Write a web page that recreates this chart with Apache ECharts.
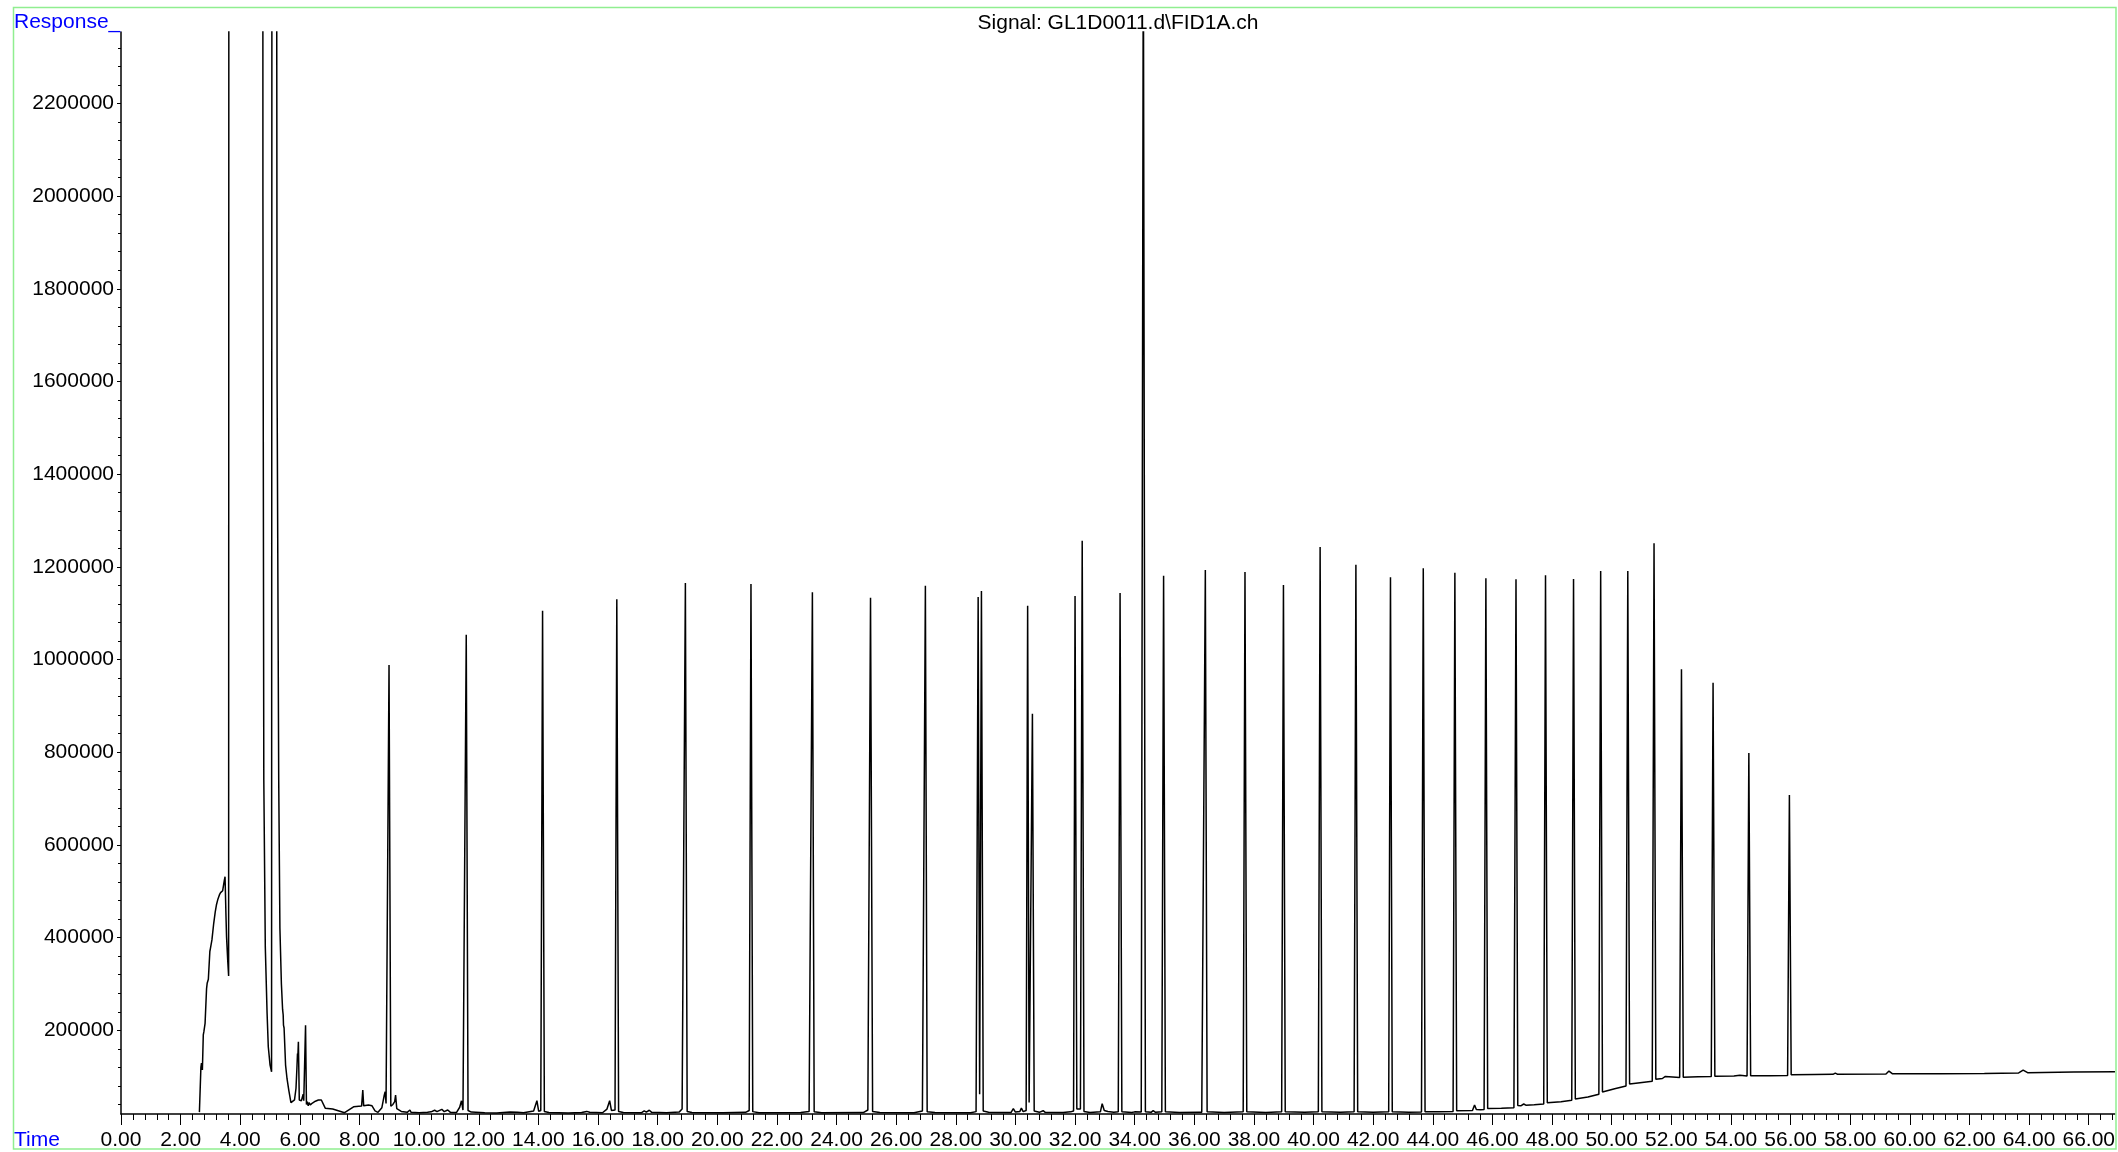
<!DOCTYPE html>
<html>
<head>
<meta charset="utf-8">
<title>Signal: GL1D0011.d\FID1A.ch</title>
<script src="https://cdn.jsdelivr.net/npm/echarts@6/dist/echarts.min.js"></script>
<style>
  html, body { margin: 0; padding: 0; background: #ffffff; }
  #chart { width: 2118px; height: 1152px; }
</style>
</head>
<body>
<div id="chart"></div>
<script>
// FID1A detector trace, [retention time (min), response]

// solvent front and light components
const solventRegion = [
  [2.63, 23400], [2.68, 120000], [2.70, 129000], [2.73, 114300], [2.76, 190000], [2.78, 197000],
  [2.82, 215000], [2.87, 290000], [2.89, 301400], [2.93, 310000], [2.98, 370000], [3.00, 377000],
  [3.05, 395000], [3.11, 430900], [3.16, 455000], [3.20, 470300], [3.25, 483000], [3.30, 492000],
  [3.34, 497000], [3.38, 499000], [3.41, 501200], [3.44, 505000], [3.47, 525000], [3.49, 531400],
  [3.52, 450000], [3.54, 402000], [3.58, 350000], [3.61, 317100],
  [3.64, 9800000], [4.20, 31000000], [4.74, 8000000],
  [4.76, 2000000], [4.79, 740000], [4.84, 380000], [4.90, 236700], [4.94, 164500], [5.00, 125000],
  [5.05, 110600], [5.08, 6500000], [5.15, 8200000], [5.20, 4000000], [5.235, 1600000],
  [5.29, 740000], [5.33, 420000], [5.38, 300000], [5.42, 245000], [5.44, 233000], [5.45, 211000],
  [5.47, 205000], [5.52, 125000], [5.57, 95000], [5.63, 70000], [5.70, 44000], [5.76, 43000],
  [5.82, 50000], [5.87, 75000], [5.90, 118000], [5.92, 150000], [5.93, 140000], [5.95, 175400],
  [5.98, 49500], [6.05, 48000], [6.11, 62000], [6.13, 48000], [6.17, 48000], [6.19, 211000],
  [6.22, 40000], [6.25, 46000], [6.28, 37000], [6.31, 44000], [6.35, 39000], [6.42, 43000],
  [6.52, 47000], [6.62, 49500], [6.72, 49500], [6.78, 46000], [6.85, 32000], [7.10, 30000],
  [7.50, 22200], [7.80, 35000], [8.07, 36500], [8.11, 71000], [8.14, 37000], [8.20, 40000],
  [8.30, 39000], [8.42, 37000], [8.52, 26000], [8.62, 23000], [8.75, 33000], [8.83, 60000],
  [8.86, 67500], [8.89, 42000], [8.93, 45000], [8.99, 988100], [9.05, 36000], [9.12, 40000],
  [9.18, 46000], [9.21, 60000], [9.25, 31000], [9.40, 25000], [9.60, 23000], [9.69, 28000],
  [9.73, 23000]
];

// n-alkane series, 10 to 43 min
const midRegion = [
  [10.00, 22000], [10.28, 23000], [10.33, 27000], [10.40, 24000], [10.52, 27500], [10.60, 24500],
  [10.76, 29500], [10.84, 24500], [10.96, 28000], [11.05, 23000], [11.25, 22500], [11.36, 34000],
  [11.42, 48000], [11.47, 28000], [11.53, 30000], [11.58, 1053500], [11.64, 27000], [11.75, 23500],
  [12.20, 22000], [12.60, 21500], [13.05, 23500], [13.30, 23000], [13.50, 22000], [13.84, 26000],
  [13.95, 48000], [14.01, 25000], [14.08, 27000], [14.14, 1105300], [14.20, 25000], [14.35, 22500],
  [15.00, 21500], [15.45, 22500], [15.62, 25000], [15.72, 23000], [16.15, 22000], [16.30, 30000],
  [16.39, 48000], [16.45, 27000], [16.57, 28000], [16.63, 1129900], [16.69, 25000], [16.85, 22500],
  [17.45, 22000], [17.55, 26000], [17.62, 23500], [17.72, 27500], [17.80, 23000], [18.30, 22000],
  [18.72, 23500], [18.82, 30000], [18.87, 28000], [18.93, 1165000], [18.99, 25000], [19.15, 22500],
  [20.20, 22000], [20.95, 23000], [21.07, 27000], [21.13, 1162900], [21.19, 24500], [21.40, 22000],
  [22.80, 22500], [23.08, 25000], [23.13, 28000], [23.19, 1145000], [23.25, 24000], [23.50, 22000],
  [24.90, 22500], [25.05, 28000], [25.14, 1133300], [25.21, 25000], [25.45, 22500], [26.60, 22000],
  [26.88, 26000], [26.98, 1159200], [27.04, 24000], [27.30, 22500], [28.50, 22000], [28.68, 24500],
  [28.75, 1134800], [28.80, 62000], [28.86, 1147800], [28.92, 26000], [29.10, 23000], [29.85, 22500],
  [29.93, 31000], [30.00, 23500], [30.15, 25000], [30.20, 32000], [30.26, 24500], [30.36, 27000],
  [30.41, 1116100], [30.46, 44000], [30.51, 45000], [30.57, 883100], [30.63, 26000], [30.80, 23000],
  [30.93, 26500], [31.00, 23000], [31.60, 22500], [31.85, 24000], [31.95, 26000], [32.00, 1137000],
  [32.06, 30000], [32.12, 31000], [32.18, 30000], [32.24, 1256300], [32.30, 25000], [32.50, 22500],
  [32.85, 24000], [32.91, 41600], [32.98, 27000], [33.10, 25000], [33.30, 23000], [33.45, 24000],
  [33.51, 1143500], [33.57, 24000], [33.90, 22500], [34.00, 24000], [34.05, 22500], [34.22, 23500],
  [34.29, 2600000], [34.36, 24000], [34.55, 23000], [34.62, 26500], [34.70, 23000], [34.91, 24000],
  [34.97, 1180800], [35.03, 24000], [35.50, 22500], [36.15, 23000], [36.20, 25000], [36.25, 23000],
  [36.31, 24000], [36.37, 1193100], [36.43, 24000], [37.00, 22500], [37.64, 24000], [37.70, 1188800],
  [37.76, 24000], [38.40, 22500], [38.93, 24000], [38.99, 1160700], [39.05, 24000], [39.70, 23000],
  [40.16, 24000], [40.22, 1242700], [40.28, 24500], [40.90, 23000], [41.36, 24000], [41.42, 1204500],
  [41.48, 24000], [42.00, 23000], [42.52, 24000], [42.58, 1177300], [42.64, 24000], [43.20, 23000]
];

// heavy end with rising column bleed
const lateRegion = [
  [43.62, 23500], [43.68, 1196800], [43.74, 24500], [44.20, 24500], [44.68, 25000], [44.74, 1187300],
  [44.80, 26500], [45.33, 27000], [45.40, 39000], [45.46, 29000], [45.60, 28500], [45.72, 29000],
  [45.78, 1175200], [45.84, 31500], [46.30, 32000], [46.72, 33000], [46.79, 1173000], [46.85, 37500],
  [46.90, 39000], [46.95, 37000], [47.05, 41000], [47.12, 38500], [47.40, 39500], [47.72, 41000],
  [47.78, 1181700], [47.84, 43500], [48.30, 46000], [48.66, 49000], [48.72, 1173700], [48.78, 52000],
  [49.20, 56000], [49.57, 62000], [49.63, 1190900], [49.69, 67000], [50.10, 74000], [50.48, 80000],
  [50.54, 1190900], [50.60, 84000], [50.95, 87000], [51.36, 90000], [51.42, 1250700], [51.48, 94500],
  [51.70, 96000], [51.80, 100500], [51.86, 96500], [52.28, 98000], [52.34, 978900], [52.40, 98500],
  [52.90, 99800], [53.34, 100500], [53.40, 950000], [53.46, 101000], [54.10, 101200], [54.30, 103000],
  [54.36, 101500], [54.54, 101500], [54.60, 798300], [54.66, 102000], [55.30, 102000], [55.90, 102500],
  [55.96, 707700], [56.02, 104000], [56.80, 104500], [57.42, 105000], [57.50, 107700], [57.58, 105000],
  [59.20, 105500], [59.30, 112000], [59.42, 106000], [61.00, 106000], [62.50, 107000], [63.65, 108000],
  [63.80, 114000], [63.95, 108500], [65.50, 109800], [66.88, 110700]
];

// axis tick labels
const timeLabels = [0, 2, 4, 6, 8, 10, 12, 14, 16, 18, 20, 22, 24, 26, 28, 30, 32, 34,
  36, 38, 40, 42, 44, 46, 48, 50, 52, 54, 56, 58, 60, 62, 64, 66];
const responseLabels = [200000, 400000, 600000, 800000, 1000000, 1200000,
  1400000, 1600000, 1800000, 2000000, 2200000];

const TIME_MIN = 0, TIME_MAX = 66.88;
const RESP_MIN = 19400, RESP_MAX = 2354000;
const FONT = '"Liberation Sans", Arial, Helvetica, sans-serif';

// minor tick positions: five per labelled interval on each axis
const timeMinor = [];
for (let k = 1; k * 0.4 <= TIME_MAX + 1e-9; k++) {
  if (k % 5 !== 0) timeMinor.push(Math.round(k * 40) / 100);
}
const respMinor = [];
for (let v = 40000; v < RESP_MAX; v += 40000) {
  if (v % 200000 !== 0) respMinor.push(v);
}

const trace = solventRegion.concat(midRegion, lateRegion);

const chart = echarts.init(document.getElementById('chart'), null, { renderer: 'canvas' });

const tickStyle = { color: '#000000', width: 1 };

chart.setOption({
  animation: false,
  backgroundColor: '#ffffff',
  textStyle: { fontFamily: FONT },
  grid: { left: 121, right: 2, top: 32, bottom: 38, containLabel: false },
  xAxis: [
    {
      type: 'value', position: 'bottom', min: TIME_MIN, max: TIME_MAX,
      axisLine: { show: true, onZero: false, lineStyle: { color: '#000000', width: 1.5 } },
      axisTick: { show: true, customValues: timeLabels, length: 11, lineStyle: tickStyle },
      axisLabel: {
        show: true, customValues: timeLabels, margin: 16, fontSize: 21, color: '#000000',
        fontFamily: FONT, formatter: v => Number(v).toFixed(2)
      },
      splitLine: { show: false }
    },
    {
      type: 'value', position: 'bottom', min: TIME_MIN, max: TIME_MAX,
      axisLine: { show: false, onZero: false },
      axisTick: { show: true, customValues: timeMinor, length: 6, lineStyle: tickStyle },
      axisLabel: { show: false },
      splitLine: { show: false }
    }
  ],
  yAxis: [
    {
      type: 'value', position: 'left', min: RESP_MIN, max: RESP_MAX,
      axisLine: { show: true, onZero: false, lineStyle: { color: '#000000', width: 1.5 } },
      axisTick: { show: true, customValues: responseLabels, length: 4, lineStyle: tickStyle },
      axisLabel: {
        show: true, customValues: responseLabels, margin: 7, fontSize: 21, color: '#000000',
        fontFamily: FONT, formatter: v => String(v)
      },
      splitLine: { show: false }
    },
    {
      type: 'value', position: 'left', min: RESP_MIN, max: RESP_MAX,
      axisLine: { show: false, onZero: false },
      axisTick: { show: true, customValues: respMinor, length: 3, lineStyle: tickStyle },
      axisLabel: { show: false },
      splitLine: { show: false }
    }
  ],
  series: [{
    name: 'FID1A',
    type: 'line',
    xAxisIndex: 0,
    yAxisIndex: 0,
    data: trace,
    showSymbol: false,
    symbol: 'none',
    clip: true,
    sampling: null,
    lineStyle: { color: '#000000', width: 1.5 },
    emphasis: { disabled: true }
  }],
  graphic: [
    {
      type: 'rect', silent: true, z: 10,
      shape: { x: 13.5, y: 7.5, width: 2102.5, height: 1141.5 },
      style: { fill: 'none', stroke: '#90ee90', lineWidth: 1.5 }
    },
    {
      type: 'text', silent: true, z: 11, left: 14, top: 12,
      style: { text: 'Response_', fill: '#0000ff', font: '21px ' + FONT }
    },
    {
      type: 'text', silent: true, z: 11, left: 14, top: 1130,
      style: { text: 'Time', fill: '#0000ff', font: '21px ' + FONT }
    },
    {
      type: 'text', silent: true, z: 11, x: 1118, y: 23,
      style: {
        text: 'Signal: GL1D0011.d\\FID1A.ch', fill: '#000000', font: '21px ' + FONT,
        align: 'center', verticalAlign: 'middle'
      }
    }
  ]
});
</script>
</body>
</html>
